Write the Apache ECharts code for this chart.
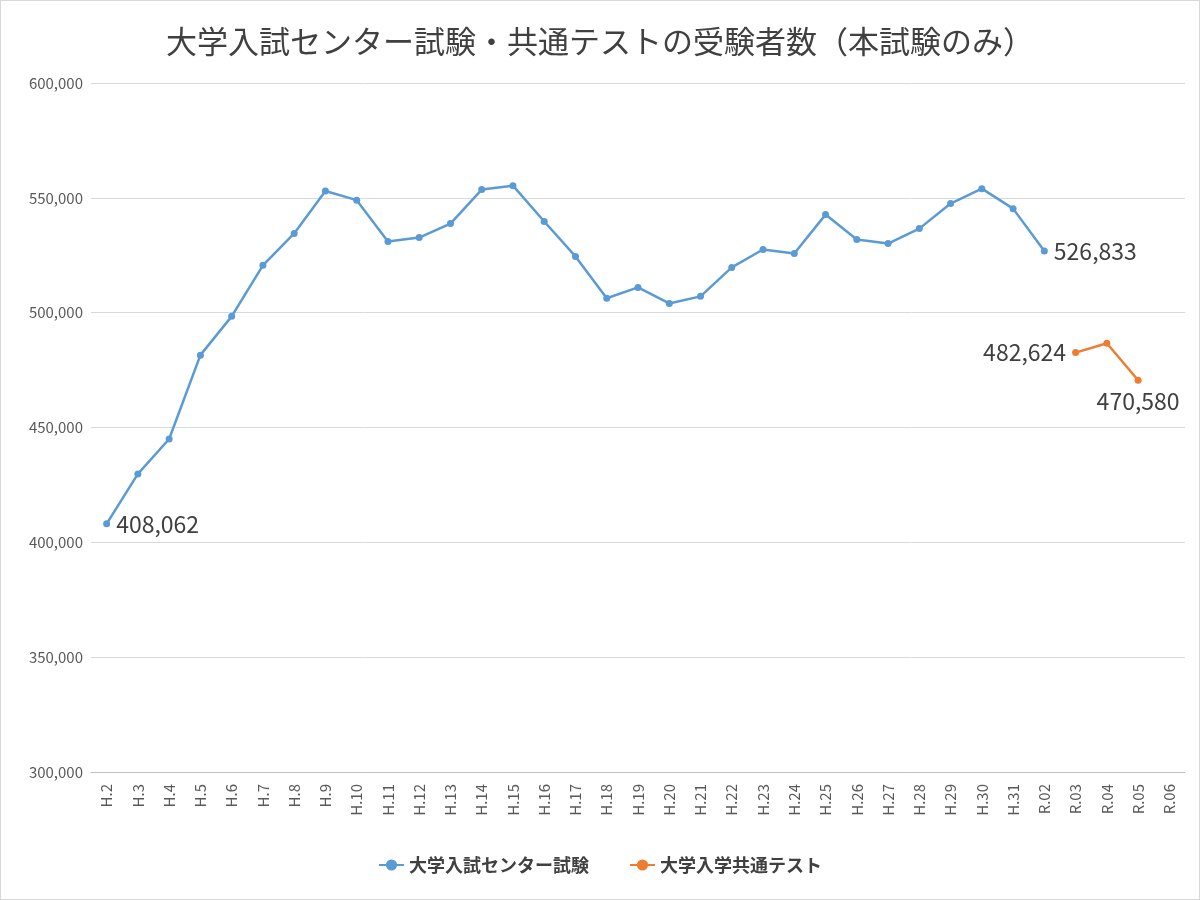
<!DOCTYPE html>
<html><head><meta charset="utf-8">
<script src="https://cdn.jsdelivr.net/npm/echarts@6/dist/echarts.min.js"></script>
<style>html,body{margin:0;padding:0;background:#fff}#c{width:1198px;height:898px;border:1px solid #d9d9d9}</style>
</head><body><div id="c"></div>
<script>
const categories=['H.2','H.3','H.4','H.5','H.6','H.7','H.8','H.9','H.10','H.11','H.12','H.13','H.14','H.15','H.16','H.17','H.18','H.19','H.20','H.21','H.22','H.23','H.24','H.25','H.26','H.27','H.28','H.29','H.30','H.31','R.02','R.03','R.04','R.05','R.06'];
const centerValues=[408062,429800,445000,481500,498400,520600,534500,553000,549000,531000,532700,538800,553600,555300,539700,524500,506300,511000,504000,507100,519700,527500,525800,542700,531900,530100,536600,547500,554000,545300,526833,null,null,null,null];
const kyotsuValues=[null,null,null,null,null,null,null,null,null,null,null,null,null,null,null,null,null,null,null,null,null,null,null,null,null,null,null,null,null,null,null,482624,486700,470580,null];
const labelPos={0:'right',30:'right',31:'left',33:'bottom'};
function withLabels(arr){return arr.map((v,i)=>labelPos[i]&&v!=null?{value:v,label:{show:true,position:labelPos[i],distance:6,formatter:p=>p.value.toLocaleString('en-US'),fontSize:23,color:'#404040'}}:v);}
const font='"Noto Sans CJK JP", sans-serif';
const chart=echarts.init(document.getElementById('c'));
chart.setOption({
 textStyle:{fontFamily:font},
 title:{text:'大学入試センター試験・共通テストの受験者数（本試験のみ）',left:'center',top:20,textStyle:{fontSize:31,fontWeight:'normal',color:'#404040',fontFamily:font}},
 legend:{bottom:20,itemGap:40,textStyle:{fontSize:18,fontWeight:'bold',color:'#404040'},data:['大学入試センター試験','大学入学共通テスト']},
 grid:{left:90,right:14,top:82,bottom:127},
 xAxis:{type:'category',data:categories,axisLine:{lineStyle:{color:'#bfbfbf'}},axisTick:{show:false},axisLabel:{rotate:90,fontSize:15,color:'#595959',margin:12}},
 yAxis:{type:'value',min:300000,max:600000,interval:50000,axisLabel:{fontSize:15,color:'#595959',formatter:v=>v.toLocaleString('en-US')},splitLine:{lineStyle:{color:'#d9d9d9'}}},
 series:[
  {name:'大学入試センター試験',type:'line',data:withLabels(centerValues),symbol:'circle',symbolSize:7,itemStyle:{color:'#5b9bd5'},lineStyle:{width:2.5,color:'#5b9bd5'}},
  {name:'大学入学共通テスト',type:'line',data:withLabels(kyotsuValues),symbol:'circle',symbolSize:7,itemStyle:{color:'#ed7d31'},lineStyle:{width:2.5,color:'#ed7d31'}}
 ]
});
</script></body></html>
